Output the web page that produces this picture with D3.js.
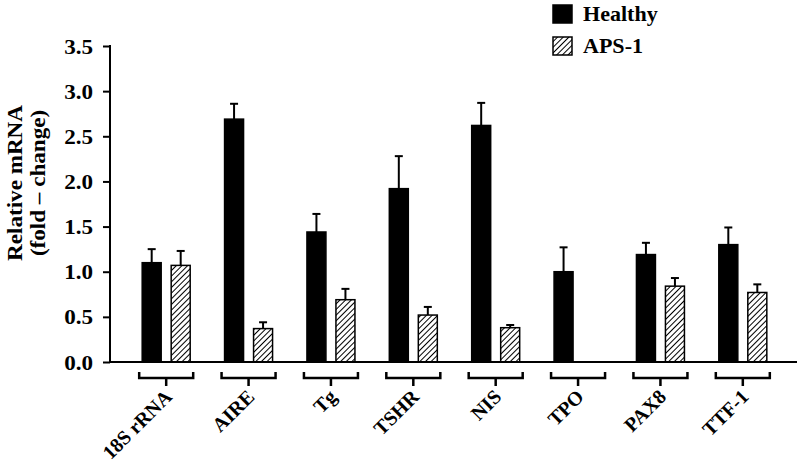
<!DOCTYPE html>
<html>
<head>
<meta charset="utf-8">
<script src="https://cdn.jsdelivr.net/npm/d3@7/dist/d3.min.js"></script>
<style>
html,body{margin:0;padding:0;background:#fff;}
</style>
</head>
<body>
<svg id="chart" width="800" height="465"></svg>
<script>
const categories = ["18S rRNA","AIRE","Tg","TSHR","NIS","TPO","PAX8","TTF-1"];
const seriesNames = ["Healthy","APS-1"];
const healthy    = [1.10, 2.69, 1.44, 1.92, 2.62, 1.00, 1.19, 1.30];
const healthyErr = [0.15, 0.17, 0.20, 0.36, 0.25, 0.27, 0.13, 0.19];
const aps1       = [1.07, 0.37, 0.69, 0.52, 0.38, 0.00, 0.84, 0.77];
const aps1Err    = [0.16, 0.07, 0.12, 0.09, 0.03, 0.00, 0.09, 0.09];
const yTicks = [0, 0.5, 1.0, 1.5, 2.0, 2.5, 3.0, 3.5];

const svg = d3.select("#chart");
const defs = svg.append("defs");
const pat = defs.append("pattern").attr("id","hatch").attr("patternUnits","userSpaceOnUse")
  .attr("width",4).attr("height",4).attr("patternTransform","rotate(45)");
pat.append("rect").attr("width",4).attr("height",4).attr("fill","#fff");
pat.append("line").attr("x1",0).attr("y1",0).attr("x2",0).attr("y2",4).attr("stroke","#000").attr("stroke-width",2);

const axisX = 110, axisRight = 797;
const y = d3.scaleLinear().domain([0,3.5]).range([362,46]);
const x0 = d3.scaleBand().domain(categories).range([125,784]).paddingInner(0).paddingOuter(0);
const x1 = d3.scaleBand().domain(seriesNames).range([0,48]).paddingInner(0.345).paddingOuter(0);
const fills = {"Healthy":"#000","APS-1":"url(#hatch)"};
const FONT = '"Liberation Serif","Times New Roman",Times,serif';

const rows = categories.map((c,i)=>({cat:c, vals:[
  {s:"Healthy", v:healthy[i], e:healthyErr[i]},
  {s:"APS-1", v:aps1[i], e:aps1Err[i]}]}));

function label(parent, transform, txt, size, anchor){
  return parent.append("g").attr("transform",transform)
    .append("text").attr("text-anchor",anchor||"start").attr("font-size",size)
    .attr("font-family",FONT).attr("font-weight","bold").attr("fill","#000").text(txt);
}

// bars
const g = svg.append("g");
rows.forEach(r=>{
  const cx = x0(r.cat) + x0.bandwidth()/2;
  r.vals.forEach(d=>{
    if (d.v <= 0) return;
    const bx = cx - 24 + x1(d.s);
    const bw = x1.bandwidth();
    const mx = bx + bw/2;
    g.append("line").attr("x1",mx).attr("x2",mx).attr("y1",y(d.v)).attr("y2",y(d.v+d.e))
      .attr("stroke","#000").attr("stroke-width",2);
    g.append("line").attr("x1",mx-4).attr("x2",mx+4).attr("y1",y(d.v+d.e)).attr("y2",y(d.v+d.e))
      .attr("stroke","#000").attr("stroke-width",2);
    g.append("rect").attr("x",bx).attr("y",y(d.v)).attr("width",bw).attr("height",y(0)-y(d.v))
      .attr("fill",fills[d.s]).attr("stroke","#000").attr("stroke-width",1.5);
  });
  svg.append("path").attr("d",`M${cx-27},372V378H${cx+27}V372M${cx},378V386`)
    .attr("fill","none").attr("stroke","#000").attr("stroke-width",2.5);
  label(svg, `translate(${cx+7},398) rotate(-45)`, r.cat, 20, "end");
});

// y axis
const yAxis = d3.axisLeft(y).tickValues(yTicks).tickSize(7).tickFormat(d3.format(".1f"));
const ya = svg.append("g").attr("transform",`translate(${axisX},0)`).call(yAxis);
ya.select(".domain").remove();
ya.selectAll(".tick line").attr("stroke","#000").attr("stroke-width",2);
ya.selectAll(".tick text").remove();
yTicks.forEach(t=>{
  label(svg, `translate(93,${y(t)+7.5}) scale(1.1,1)`, d3.format(".1f")(t), 21, "end");
});
svg.append("line").attr("x1",axisX).attr("x2",axisX).attr("y1",y(3.5)-1).attr("y2",y(0)+1)
  .attr("stroke","#000").attr("stroke-width",2);
svg.append("line").attr("x1",axisX).attr("x2",axisRight).attr("y1",y(0)).attr("y2",y(0))
  .attr("stroke","#000").attr("stroke-width",2);

// y label
label(svg, `translate(22,183) rotate(-90) scale(1.1,1)`, "Relative mRNA", 21, "middle");
label(svg, `translate(45,183) rotate(-90) scale(1.1,1)`, "(fold \u2013 change)", 21, "middle");

// legend
seriesNames.forEach((s,i)=>{
  const ly = 5 + i*32;
  svg.append("rect").attr("x",553).attr("y",ly).attr("width",19).attr("height",18)
    .attr("fill",fills[s]).attr("stroke","#000").attr("stroke-width",1.5);
  label(svg, `translate(583,${ly+16}) scale(1.05,1)`, s, 21, "start");
});
</script>
</body>
</html>
